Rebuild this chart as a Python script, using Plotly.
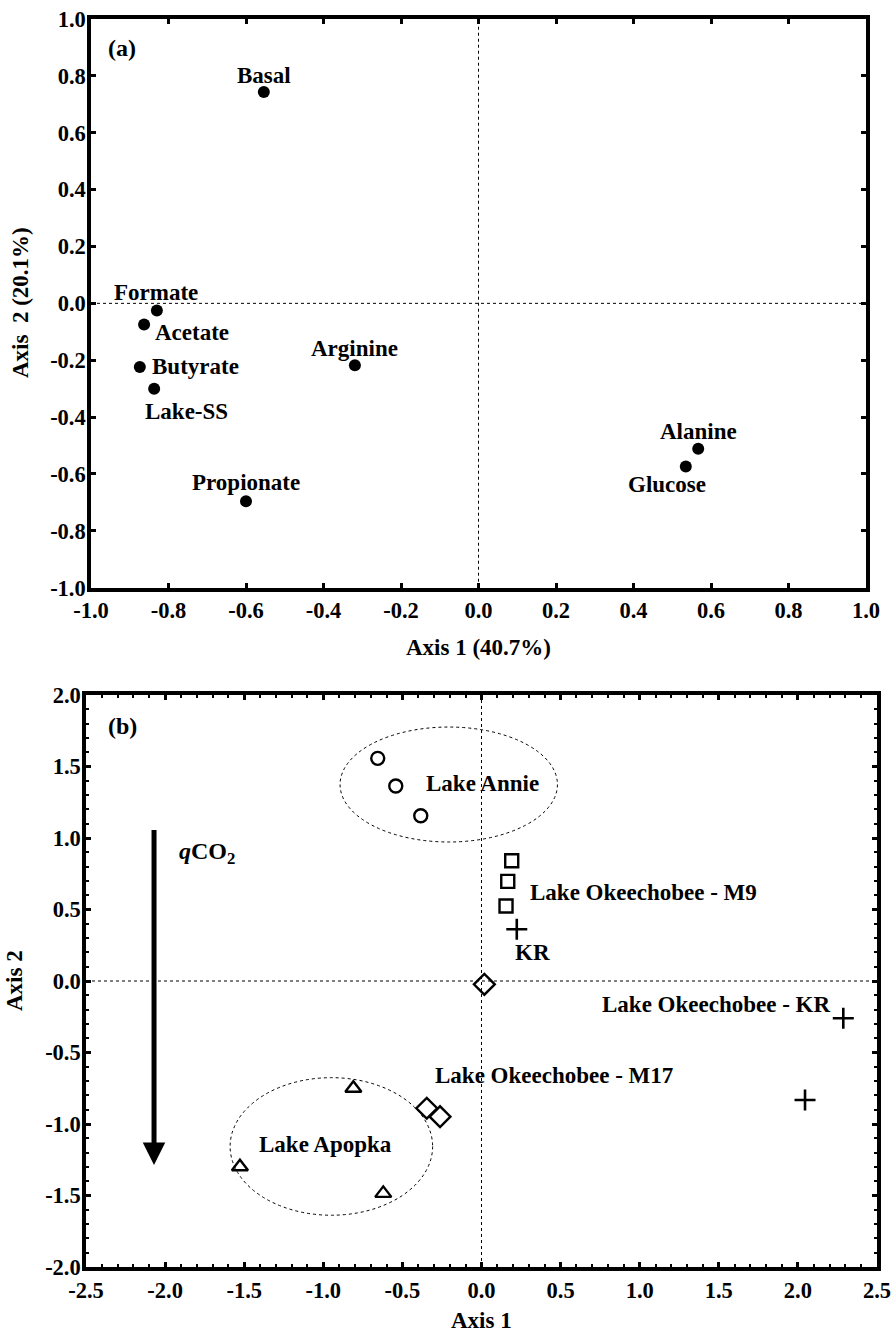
import plotly.graph_objects as go

# ---------------- Data: panel (a) substrates ----------------
subs_a = ["Basal", "Formate", "Acetate", "Butyrate", "Lake-SS",
          "Propionate", "Arginine", "Alanine", "Glucose"]
a_axis1 = [-0.554, -0.830, -0.863, -0.874, -0.837, -0.600, -0.319, 0.567, 0.535]
a_axis2 = [0.743, -0.025, -0.074, -0.224, -0.300, -0.696, -0.218, -0.511, -0.574]

# ---------------- Data: panel (b) sites ----------------
annie_x = [-0.656, -0.542, -0.384]
annie_y = [1.557, 1.364, 1.156]
m9_x = [0.191, 0.166, 0.155]
m9_y = [0.841, 0.697, 0.524]
kr_x = [0.223, 2.287, 2.045]
kr_y = [0.362, -0.261, -0.832]
m17_x = [0.018, -0.346, -0.262]
m17_y = [-0.023, -0.890, -0.949]
apopka_x = [-0.810, -1.527, -0.621]
apopka_y = [-0.750, -1.299, -1.485]

a_ticks = [-1.0, -0.8, -0.6, -0.4, -0.2, 0.0, 0.2, 0.4, 0.6, 0.8, 1.0]
b_xticks = [-2.5, -2.0, -1.5, -1.0, -0.5, 0.0, 0.5, 1.0, 1.5, 2.0, 2.5]
b_yticks = [-2.0, -1.5, -1.0, -0.5, 0.0, 0.5, 1.0, 1.5, 2.0]

# ---------------- Styling ----------------
FONT = "Liberation Serif"
W, H = 894, 1335
fs = 23
tfs = 22.5

fig = go.Figure()

fig.add_trace(go.Scatter(x=a_axis1, y=a_axis2, mode="markers", xaxis="x", yaxis="y",
                         marker=dict(symbol="circle", size=12, color="black"),
                         showlegend=False, hoverinfo="text", text=subs_a))

open_line = dict(color="black", width=2.4)
fig.add_trace(go.Scatter(x=annie_x, y=annie_y, mode="markers", xaxis="x2", yaxis="y2",
                         marker=dict(symbol="circle-open", size=13, line=open_line, color="black"),
                         showlegend=False))
fig.add_trace(go.Scatter(x=m9_x, y=m9_y, mode="markers", xaxis="x2", yaxis="y2",
                         marker=dict(symbol="square-open", size=13, line=open_line, color="black"),
                         showlegend=False))
fig.add_trace(go.Scatter(x=kr_x, y=kr_y, mode="markers", xaxis="x2", yaxis="y2",
                         marker=dict(symbol="cross-thin-open", size=15, line=dict(color="black", width=2.6), color="black"),
                         showlegend=False))
fig.add_trace(go.Scatter(x=m17_x, y=m17_y, mode="markers", xaxis="x2", yaxis="y2",
                         marker=dict(symbol="diamond-open", size=16, line=open_line, color="black"),
                         showlegend=False))
fig.add_trace(go.Scatter(x=apopka_x, y=apopka_y, mode="markers", xaxis="x2", yaxis="y2",
                         marker=dict(symbol="triangle-up-open", size=14, line=open_line, color="black"),
                         showlegend=False))

# Label placement for panel (a): (dx, dy, xanchor) offsets in data units
a_label_place = {
    "Basal": (0.0, 0.060, "center"),
    "Formate": (-0.002, 0.063, "center"),
    "Acetate": (0.022, -0.028, "left"),
    "Butyrate": (0.025, 0.001, "left"),
    "Lake-SS": (0.084, -0.081, "center"),
    "Propionate": (0.001, 0.065, "center"),
    "Arginine": (0.0, 0.060, "center"),
    "Alanine": (0.0, 0.062, "center"),
    "Glucose": (-0.048, -0.062, "center"),
}

bold = lambda size: dict(family=FONT, size=size, color="black", weight="bold")

ann = []
for name, xv, yv in zip(subs_a, a_axis1, a_axis2):
    dx, dy, xa = a_label_place[name]
    ann.append(dict(x=xv + dx, y=yv + dy, xref="x", yref="y", text=name, showarrow=False,
                    xanchor=xa, yanchor="middle", font=bold(fs)))

def txt(x, y, s, xref, yref, xa="center", size=fs, angle=0):
    return dict(x=x, y=y, xref=xref, yref=yref, text=s, showarrow=False, xanchor=xa,
                yanchor="middle", textangle=angle, font=bold(size))

ann.append(txt(-0.921, 0.897, "(a)", "x", "y", size=24))
ann.append(txt(-2.268, 1.783, "(b)", "x2", "y2", size=24))
ann.append(txt(0.009, 1.378, "Lake Annie", "x2", "y2"))
ann.append(txt(-1.735, 0.895, "<i>q</i>CO<sub>2</sub>", "x2", "y2", size=24))
ann.append(txt(0.294, 0.622, "Lake Okeechobee - M9", "x2", "y2", xa="left"))
ann.append(txt(0.197, 0.196, "KR", "x2", "y2", xa="left"))
ann.append(txt(2.214, -0.161, "Lake Okeechobee - KR", "x2", "y2", xa="right"))
ann.append(txt(-0.307, -0.664, "Lake Okeechobee - M17", "x2", "y2", xa="left"))
ann.append(txt(-0.986, -1.142, "Lake Apopka", "x2", "y2"))

# qCO2 arrow
ann.append(dict(x=-2.070, y=-1.287, ax=-2.070, ay=1.126, xref="x2", yref="y2",
                axref="x2", ayref="y2", showarrow=True, arrowhead=2, arrowsize=0.9,
                arrowwidth=5, arrowcolor="black", standoff=0, text=" "))

# Axis titles (paper coordinates)
ann.append(txt(478.5 / W, 1 - 648 / H, "Axis 1 (40.7%)", "paper", "paper"))
ann.append(txt(21 / W, 1 - 303 / H, "Axis  2 (20.1%)", "paper", "paper", angle=-90))
ann.append(txt(481.5 / W, 1 - 1320 / H, "Axis 1", "paper", "paper"))
ann.append(txt(14 / W, 1 - 981 / H, "Axis 2", "paper", "paper", angle=-90))

dot = dict(color="black", width=1, dash="dot")
shapes = [
    dict(type="line", xref="x", yref="y", x0=-1, x1=1, y0=0, y1=0, line=dot, layer="below"),
    dict(type="line", xref="x", yref="y", x0=0, x1=0, y0=-1, y1=1, line=dot, layer="below"),
    dict(type="line", xref="x2", yref="y2", x0=-2.5, x1=2.5, y0=0, y1=0, line=dot, layer="below"),
    dict(type="line", xref="x2", yref="y2", x0=0, x1=0, y0=-2, y1=2, line=dot, layer="below"),
    dict(type="circle", xref="x2", yref="y2", x0=-0.207 - 0.687, x1=-0.207 + 0.687,
         y0=1.374 - 0.402, y1=1.374 + 0.402, line=dot, layer="below"),
    dict(type="circle", xref="x2", yref="y2", x0=-0.949 - 0.640, x1=-0.949 + 0.640,
         y0=-1.157 - 0.481, y1=-1.157 + 0.481, line=dot, layer="below"),
]

tickfont = bold(tfs)

def axis(domain, rng, ticks, anchor, standoff, minor=None):
    d = dict(domain=domain, range=rng, tickmode="array", tickvals=ticks,
             ticktext=[f"{v:.1f}" for v in ticks], showline=True, linewidth=3.5,
             linecolor="black", mirror="allticks", ticks="inside", ticklen=5, tickwidth=2.5,
             tickcolor="black", showgrid=False, zeroline=False, tickfont=tickfont,
             anchor=anchor, automargin=False, ticklabelstandoff=standoff)
    if minor:
        d["minor"] = minor
    return d

minor_b = dict(ticks="inside", dtick=0.1, tick0=0, ticklen=3, tickwidth=2, tickcolor="black")

fig.update_layout(
    width=W, height=H, margin=dict(l=0, r=0, t=0, b=0),
    paper_bgcolor="white", plot_bgcolor="white",
    xaxis=axis([91 / W, 866 / W], [-1, 1], a_ticks, "y", 0),
    yaxis=axis([1 - 587.7 / H, 1 - 19 / H], [-1, 1], a_ticks, "x", -3),
    xaxis2=axis([86 / W, 877 / W], [-2.5, 2.5], b_xticks, "y2", 0, minor_b),
    yaxis2=axis([1 - 1267 / H, 1 - 695 / H], [-2, 2], b_yticks, "x2", -3, minor_b),
    annotations=ann, shapes=shapes, showlegend=False,
)

fig.write_html("out.html", config={"displayModeBar": False},
               post_script="document.body.style.margin='0';document.body.style.overflow='hidden';")
